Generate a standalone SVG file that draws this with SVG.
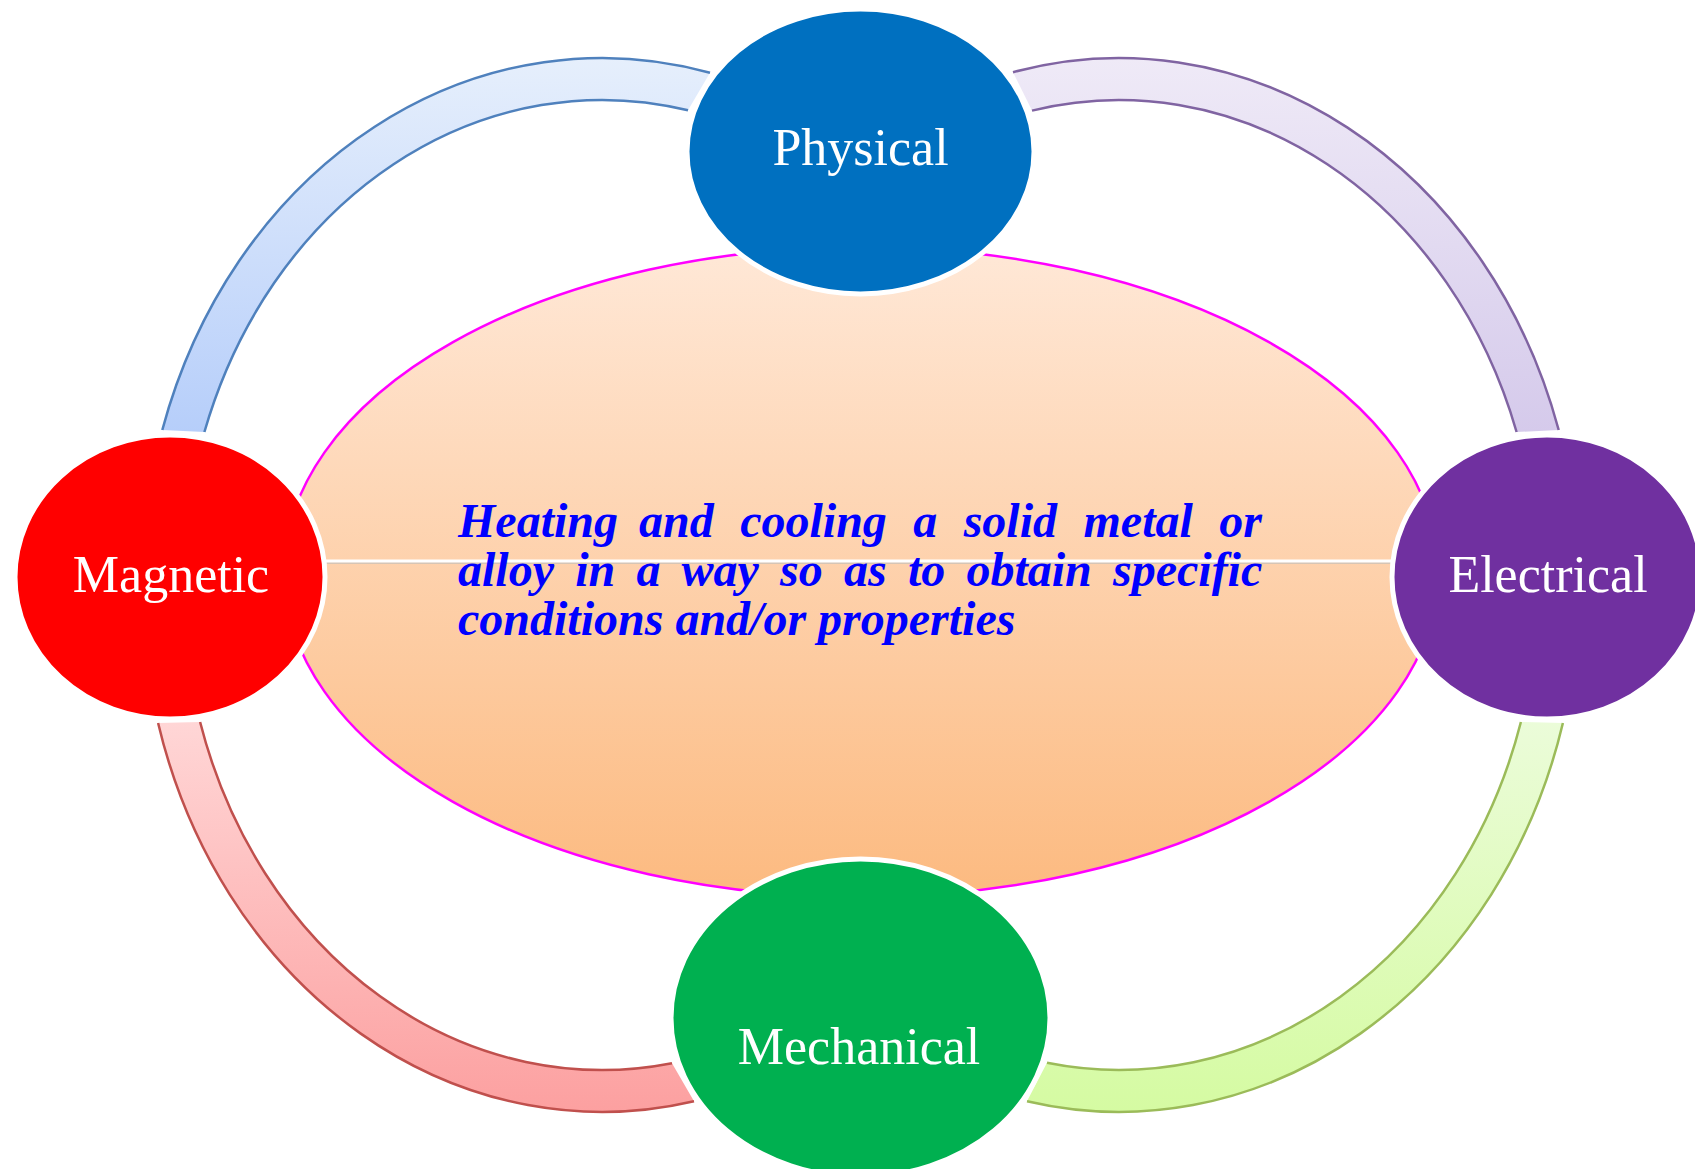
<svg xmlns="http://www.w3.org/2000/svg" width="1695" height="1169" viewBox="0 0 1695 1169">
<defs>
<linearGradient id="gCenter" x1="0" y1="0" x2="0" y2="1">
<stop offset="0" stop-color="#FFE8D7"/><stop offset="1" stop-color="#FCBA80"/>
</linearGradient>
<linearGradient id="gBlue" gradientUnits="userSpaceOnUse" x1="0" y1="58" x2="0" y2="432">
<stop offset="0" stop-color="#E6EFFC"/><stop offset="1" stop-color="#B6CEFA"/>
</linearGradient>
<linearGradient id="gPurple" gradientUnits="userSpaceOnUse" x1="0" y1="58" x2="0" y2="432">
<stop offset="0" stop-color="#EFEAF7"/><stop offset="1" stop-color="#D5CAEB"/>
</linearGradient>
<linearGradient id="gRed" gradientUnits="userSpaceOnUse" x1="0" y1="722" x2="0" y2="1112">
<stop offset="0" stop-color="#FFD6D6"/><stop offset="1" stop-color="#FCA0A0"/>
</linearGradient>
<linearGradient id="gGreen" gradientUnits="userSpaceOnUse" x1="0" y1="722" x2="0" y2="1112">
<stop offset="0" stop-color="#EBFCD9"/><stop offset="1" stop-color="#D5FBA2"/>
</linearGradient>
</defs>
<style>
.edge{fill:none;stroke-width:2.5}
.node{stroke:#FFFFFF;stroke-width:5}
.lbl{font-family:"Liberation Serif","Times New Roman",serif;font-size:52px;fill:#FFFFFF;text-anchor:middle}
.body{font-family:"Liberation Serif","Times New Roman",serif;font-size:48px;font-weight:bold;font-style:italic;fill:#0000FF}
</style>
<rect x="0" y="0" width="1695" height="1169" fill="#FFFFFF"/>

<g id="center">
<ellipse cx="861" cy="572" rx="577" ry="325" fill="url(#gCenter)" stroke="#FF00FF" stroke-width="2.5"/>
<line x1="300" y1="563" x2="1420" y2="563" stroke="#C8C0B8" stroke-width="1.5"/>
<line x1="300" y1="561" x2="1420" y2="561" stroke="#FFFFFF" stroke-width="3"/>
<text class="body" y="537"><tspan x="458">Heating</tspan><tspan x="639.1">and</tspan><tspan x="740.2">cooling</tspan><tspan x="913.3">a</tspan><tspan x="963.7">solid</tspan><tspan x="1083.5">metal</tspan><tspan x="1219.2">or</tspan></text>
<text class="body" y="586"><tspan x="458">alloy</tspan><tspan x="575.2">in</tspan><tspan x="636.4">a</tspan><tspan x="681.6">way</tspan><tspan x="780.1">so</tspan><tspan x="844">as</tspan><tspan x="907.9">to</tspan><tspan x="966.4">obtain</tspan><tspan x="1113">specific</tspan></text>
<text class="body" x="458" y="635">conditions and/or properties</text>
</g>

<g id="connectors">
<g id="arc-physical-magnetic">
<path d="M 162.3 430 A 460 527 0 0 1 710 72.7 L 688 110.3 A 419 485 0 0 0 204.4 432 Z" fill="url(#gBlue)"/>
<path class="edge" stroke="#4F81BD" d="M 162.3 430 A 460 527 0 0 1 710 72.7"/>
<path class="edge" stroke="#4F81BD" d="M 688 110.3 A 419 485 0 0 0 204.4 432"/>
</g>
<g id="arc-physical-electrical">
<path d="M 1013 72.2 A 460 527 0 0 1 1558.7 430 L 1516.6 432 A 419 485 0 0 0 1032 110.6 Z" fill="url(#gPurple)"/>
<path class="edge" stroke="#8064A2" d="M 1013 72.2 A 460 527 0 0 1 1558.7 430"/>
<path class="edge" stroke="#8064A2" d="M 1516.6 432 A 419 485 0 0 0 1032 110.6"/>
</g>
<g id="arc-magnetic-mechanical">
<path d="M 158.1 723 A 460 527 0 0 0 694 1101.3 L 672 1063.2 A 419 485 0 0 1 200.1 722 Z" fill="url(#gRed)"/>
<path class="edge" stroke="#C0504D" d="M 158.1 723 A 460 527 0 0 0 694 1101.3"/>
<path class="edge" stroke="#C0504D" d="M 672 1063.2 A 419 485 0 0 1 200.1 722"/>
</g>
<g id="arc-electrical-mechanical">
<path d="M 1562.9 723 A 460 527 0 0 1 1027 1101.3 L 1047 1062.8 A 419 485 0 0 0 1520.9 722 Z" fill="url(#gGreen)"/>
<path class="edge" stroke="#9BBB59" d="M 1562.9 723 A 460 527 0 0 1 1027 1101.3"/>
<path class="edge" stroke="#9BBB59" d="M 1047 1062.8 A 419 485 0 0 0 1520.9 722"/>
</g>
</g>

<g id="physical">
<ellipse class="node" cx="860.5" cy="151.5" rx="173.5" ry="142.5" fill="#0070C0"/>
<text class="lbl" x="860.5" y="165">Physical</text>
</g>
<g id="magnetic">
<ellipse class="node" cx="170" cy="577" rx="155" ry="142" fill="#FF0000"/>
<text class="lbl" x="171" y="592">Magnetic</text>
</g>
<g id="electrical">
<ellipse class="node" cx="1547" cy="577" rx="155" ry="142" fill="#7030A0"/>
<text class="lbl" x="1548" y="592">Electrical</text>
</g>
<g id="mechanical">
<ellipse class="node" cx="860.5" cy="1018" rx="189.5" ry="159" fill="#00B050"/>
<text class="lbl" x="859" y="1064">Mechanical</text>
</g>
</svg>
